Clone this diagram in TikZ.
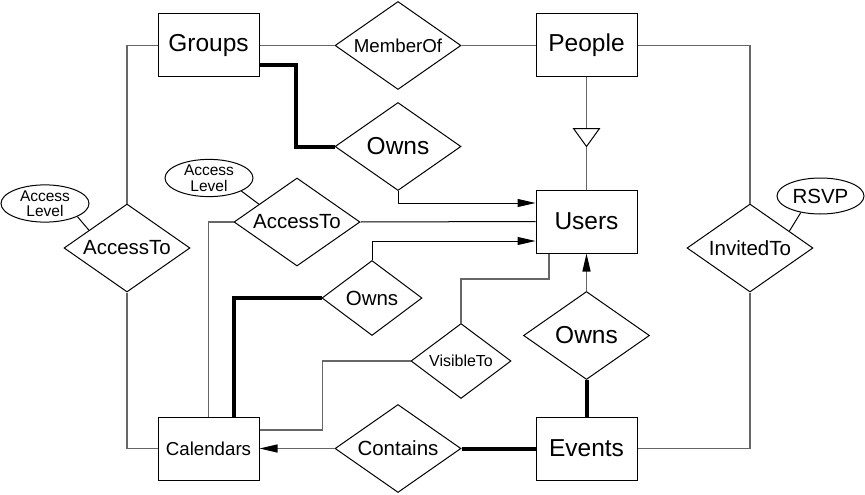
\documentclass[tikz,border=0pt]{standalone}
\usepackage{fontspec}
\setmainfont{Liberation Sans}
\usetikzlibrary{calc,shapes.geometric,arrows.meta}

\begin{document}
\begin{tikzpicture}[
    x=1pt, y=-1pt,
    line width=1pt,
    box/.style={draw, minimum width=101pt, minimum height=63pt, inner sep=0pt, font=\fontsize{24.5}{28}\selectfont},
    rel/.style={draw, diamond, aspect=1.43, minimum width=126pt, minimum height=88pt, inner sep=0pt, font=\fontsize{20.5}{24}\selectfont},
    smallrel/.style={rel, aspect=1.33, minimum width=100pt, minimum height=75pt},
    attr/.style={draw, ellipse, minimum width=88pt, minimum height=37pt, inner sep=0pt, align=center, font=\fontsize{15.5}{15.5}\selectfont},
    conn/.style={draw=black!60, line width=1.2pt},
    owner/.style={line width=4pt},
    toward/.style={-{Triangle[length=18pt, width=8pt, color=black]}}
]
    \useasboundingbox (0,0) rectangle (865,495);

    % --- Entities ---
    \node[box] (groups) at (208.5,45.5) {Groups};
    \node[box] (people) at (586.5,45.5) {People};
    \node[box] (users) at (586.5,221.5) {Users};
    \node[box, font=\fontsize{18.7}{22}\selectfont] (calendars) at (208.5,448.5) {Calendars};
    \node[box] (events) at (586.5,448.5) {Events};

    % --- Relationships ---
    \node[rel, font=\fontsize{18.7}{22}\selectfont] (memberof) at (398,45.5) {MemberOf};
    \node[rel, font=\fontsize{24.5}{28}\selectfont] (groupowns) at (398,146.5) {Owns};
    \node[rel] (calaccess) at (297,222) {AccessTo};
    \node[rel] (groupaccess) at (127,248) {AccessTo};
    \node[smallrel] (calowns) at (372,298) {Owns};
    \node[smallrel, font=\fontsize{16}{19}\selectfont] (visible) at (461,361) {VisibleTo};
    \node[rel, font=\fontsize{24.5}{28}\selectfont] (eventowns) at (586.5,335.5) {Owns};
    \node[rel] (invited) at (750,248) {InvitedTo};
    \node[rel] (contains) at (398,448.5) {Contains};

    % --- Attributes ---
    \node[attr] (groupaccesslevel) at (45,203.5) {Access\\Level};
    \node[attr] (calaccesslevel) at (209,178) {Access\\Level};
    \node[attr, minimum width=87pt, minimum height=36pt, font=\fontsize{20.5}{24}\selectfont] (rsvp) at (820.5,196) {RSVP};

    \draw ($(groupaccess.north)!0.6!(groupaccess.west)$) -- (groupaccesslevel.338);
    \draw ($(calaccess.north)!0.6!(calaccess.west)$) -- (calaccesslevel.338);
    \draw ($(invited.north)!0.62!(invited.east)$) -- (rsvp.220);

    % --- Plain links ---
    \draw[conn] (groups) -- (memberof);
    \draw[conn] (memberof) -- (people);
    \draw[conn] (people.east) -| (invited.north);
    \draw[conn] (events.east) -| (invited.south);
    \draw[conn] (groupaccess.north) |- (groups.west);
    \draw[conn] (groupaccess.south) |- (calendars.west);
    \draw[conn] (calaccess.west) -| (calendars.north);
    \draw[conn] (visible.north) -- ++(0,-44) -| ($(users.south)+(-37.5,0)$);
    \draw[conn] (visible.west) -- ++(-88,0) |- ($(calendars.east)+(0,-18.5)$);
    \draw (calaccess.east) -- (users.west);

    % --- Links with arrows ---
    \draw[toward] (groupowns.south) |- ($(users.west)+(0,-18.5)$);
    \draw[toward] (calowns.north) |- ($(users.west)+(0,19.5)$);
    \draw[conn, toward] (contains.west) -- (calendars.east);
    \draw[conn, toward] (eventowns.north) -- (users.south);

    % --- Ownership (thick) ---
    \draw[owner] ($(groups.south east)+(0,-12)$) -| ($(groupowns.west)+(-39,0)$) -- (groupowns.west);
    \draw[owner] (calowns.west) -| ($(calendars.north)+(25.5,0)$);
    \draw[owner] (contains.east) -- (events.west);
    \draw[owner] (eventowns.south) -- (events.north);

    % --- IsA triangle ---
    \coordinate (isa) at ($(people.south)+(0,51)$);
    \coordinate (isatip) at ($(isa)+(0,18)$);
    \draw[conn] (people.south) -- (isa);
    \draw (isa) ++(-13,0) -- ++(26,0) -- ++(-13,18) -- cycle;
    \draw[conn] (isatip) -- (users.north);

\end{tikzpicture}
\end{document}
